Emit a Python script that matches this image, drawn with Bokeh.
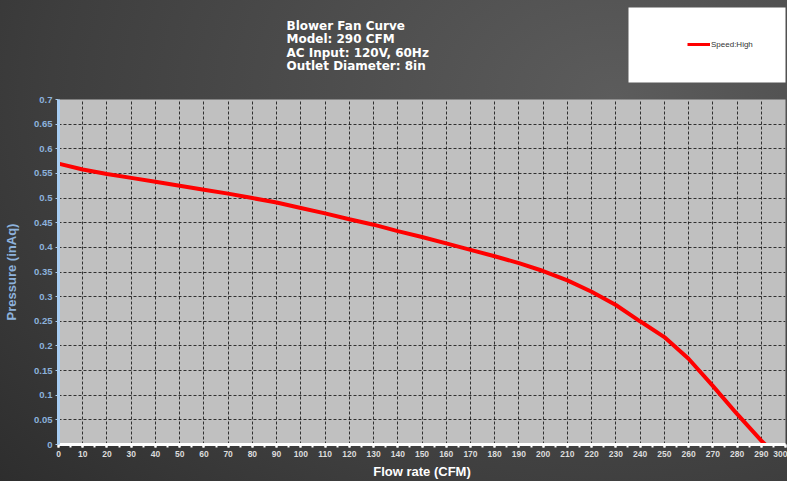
from bokeh.plotting import figure
from bokeh.layouts import column
from bokeh.models import (Legend, LegendItem, BoxAnnotation, FixedTicker,
                          ColumnDataSource, Range1d)
from bokeh.core.properties import value
from bokeh.embed import file_html
from bokeh.resources import INLINE

# ---- data ----
flow = [0, 10, 20, 30, 40, 50, 60, 70, 80, 90, 100, 110, 120, 130, 140, 150,
        160, 170, 180, 190, 200, 210, 220, 230, 240, 250, 260, 270, 280, 290, 291.6]
pressure = [0.570, 0.558, 0.549, 0.541, 0.533, 0.525, 0.517, 0.509, 0.500, 0.491,
            0.480, 0.469, 0.457, 0.446, 0.433, 0.421, 0.408, 0.395, 0.382, 0.368,
            0.352, 0.333, 0.310, 0.283, 0.250, 0.218, 0.174, 0.119, 0.062, 0.008, 0.0]
series_name = "Speed:High"

x_ticks = list(range(0, 301, 10))
x_minor = list(range(0, 301, 5))
y_ticks = [0, 0.05, 0.1, 0.15, 0.2, 0.25, 0.3, 0.35, 0.4, 0.45, 0.5, 0.55, 0.6, 0.65, 0.7]
y_tick_labels = ["0", "0.05", "0.1", "0.15", "0.2", "0.25", "0.3", "0.35", "0.4",
                 "0.45", "0.5", "0.55", "0.6", "0.65", "0.7"]

title_lines = ["Blower Fan Curve", "Model: 290 CFM", "AC Input: 120V, 60Hz",
               "Outlet Diameter: 8in"]
x_title = "Flow rate (CFM)"
y_title = "Pressure (inAq)"

W = 787
HEAD_H = 91
MAIN_H = 390
LEFT = 58
RIGHT = 2

src = ColumnDataSource(dict(x=flow, y=pressure))

# ---- header (title block + legend); its frame is aligned with the main frame ----
head = figure(width=W, height=HEAD_H, output_backend="svg", toolbar_location=None,
              x_range=Range1d(LEFT, W - RIGHT), y_range=Range1d(0, HEAD_H),
              x_axis_type=None, y_axis_type=None, min_border=0)
head.grid.visible = False
head.background_fill_alpha = 0
head.border_fill_alpha = 0
head.outline_line_color = None

title_src = ColumnDataSource(dict(
    x=[286] * len(title_lines),
    y=[HEAD_H - (25.5 + 13.4 * i) for i in range(len(title_lines))],
    text=title_lines))
head.text("x", "y", text="text", source=title_src, text_color="white",
          text_font=value("DejaVu Sans"), text_font_style="bold",
          text_font_size="12px", text_baseline="middle", text_align="left")

head.add_layout(BoxAnnotation(left=628, right=W, top=HEAD_H - 7, bottom=HEAD_H - 82,
                              fill_color="white", fill_alpha=1.0, line_color=None))

# series renderer for the legend (mapped onto a range that lies outside the header's view)
head.extra_y_ranges = {"series": Range1d(10, 11)}
legend_r = head.line("x", "y", source=src, y_range_name="series",
                     line_color="#ff0000", line_width=3)
legend = Legend(items=[LegendItem(label=series_name, renderers=[legend_r])],
                location=(687 - LEFT, HEAD_H - 49), padding=0, margin=0, spacing=0,
                background_fill_alpha=0, border_line_color=None,
                glyph_width=23, glyph_height=10, label_height=10,
                label_standoff=1, label_text_font="Liberation Sans",
                label_text_font_size="8px", label_text_color="#333333",
                label_text_baseline="middle")
head.add_layout(legend, "center")

# ---- main chart ----
p = figure(width=W, height=MAIN_H, output_backend="svg", toolbar_location=None,
           x_range=Range1d(0, 300), y_range=Range1d(0, 0.7),
           min_border_left=LEFT, min_border_right=RIGHT, min_border_top=8,
           min_border_bottom=34)
p.background_fill_color = "#c0c0c0"
p.border_fill_alpha = 0
p.outline_line_color = None

p.line("x", "y", source=src, line_color="#ff0000", line_width=4)

xa = p.xaxis[0]
xa.ticker = FixedTicker(ticks=x_ticks, minor_ticks=x_minor)
xa.axis_line_color = "white"
xa.axis_line_width = 3
xa.major_tick_line_color = "white"
xa.major_tick_line_width = 2
xa.major_tick_in = 0
xa.major_tick_out = 3
xa.minor_tick_line_color = "white"
xa.minor_tick_line_width = 2
xa.minor_tick_in = 0
xa.minor_tick_out = 3
xa.major_label_text_color = "#dcdcdc"
xa.major_label_text_font = "Liberation Sans"
xa.major_label_text_font_style = "bold"
xa.major_label_text_font_size = "8.5px"
xa.major_label_standoff = 3
xa.axis_label = x_title
xa.axis_label_text_color = "white"
xa.axis_label_text_font = "Liberation Sans"
xa.axis_label_text_font_style = "bold"
xa.axis_label_text_font_size = "13px"
xa.axis_label_standoff = 4

ya = p.yaxis[0]
ya.ticker = FixedTicker(ticks=y_ticks)
ya.major_label_overrides = {t: s for t, s in zip(y_ticks, y_tick_labels)}
ya.axis_line_color = "#a8cdf2"
ya.axis_line_width = 3
ya.major_tick_line_color = "#a8cdf2"
ya.major_tick_in = 0
ya.major_tick_out = 3
ya.minor_tick_line_color = None
ya.major_label_text_color = "#8db2dc"
ya.major_label_text_font = "Liberation Sans"
ya.major_label_text_font_style = "bold"
ya.major_label_text_font_size = "9.5px"
ya.major_label_standoff = 3
ya.axis_label = y_title
ya.axis_label_text_color = "#8db2dc"
ya.axis_label_text_font = "Liberation Sans"
ya.axis_label_text_font_style = "bold"
ya.axis_label_text_font_size = "13px"
ya.axis_label_standoff = 12

for g in (p.xgrid[0], p.ygrid[0]):
    g.grid_line_color = "#000000"
    g.grid_line_alpha = 0.75
    g.grid_line_dash = "3 2"
    g.grid_line_width = 1
p.xgrid[0].ticker = FixedTicker(ticks=x_ticks)
p.ygrid[0].ticker = FixedTicker(ticks=y_ticks)

layout = column(head, p, spacing=0)
layout.styles = {"background": "radial-gradient(ellipse 110% 130% at 78% 20%, #5c5c5c 0%, #4c4c4c 35%, #3e3e3e 65%, #2a2a2a 100%)"}

open("out.html", "w").write(file_html(layout, INLINE))
